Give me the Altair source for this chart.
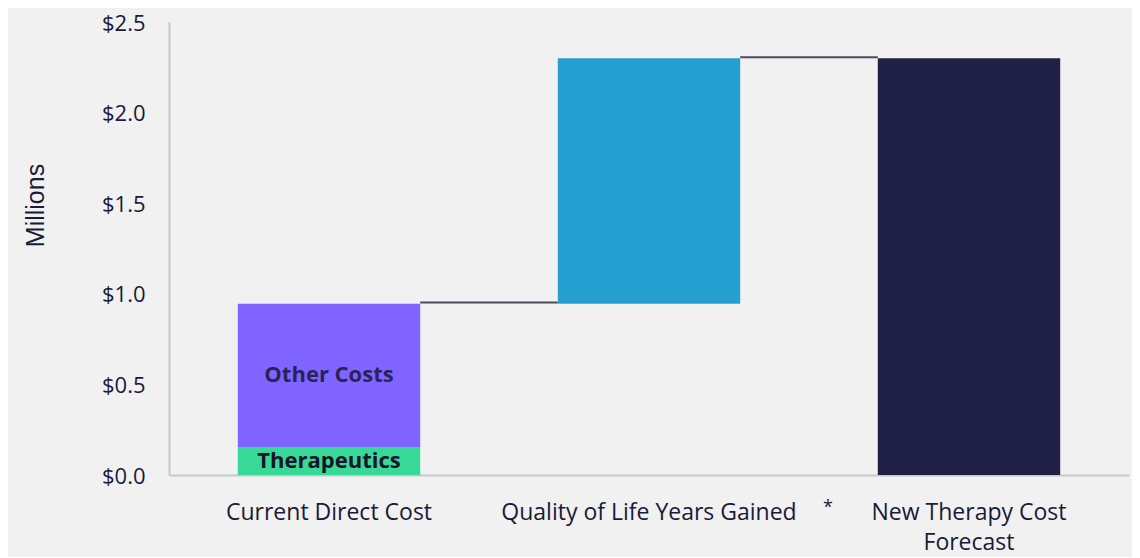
import altair as alt
import pandas as pd

categories = ["Current Direct Cost", "Current Direct Cost", "Quality of Life Years Gained", "New Therapy Cost Forecast"]
segments = ["Therapeutics", "Other Costs", "Quality of Life Years Gained", "New Therapy Cost Forecast"]
bottoms = [0.0, 0.155, 0.945, 0.0]
tops = [0.155, 0.945, 2.30, 2.30]
colors = ["#38d996", "#8064ff", "#259fcf", "#201f46"]
inner_labels = ["Therapeutics", "Other Costs", "", ""]
label_colors = ["#14142b", "#2a2456", "#14142b", "#14142b"]

order = ["Current Direct Cost", "Quality of Life Years Gained", "New Therapy Cost Forecast"]
conn_from = ["Current Direct Cost", "Quality of Life Years Gained"]
conn_to = ["Quality of Life Years Gained", "New Therapy Cost Forecast"]
conn_value = [0.952, 2.305]

bars = pd.DataFrame({
    "cat": categories, "seg": segments, "y0": bottoms, "y1": tops,
    "color": colors, "label": inner_labels, "lcolor": label_colors,
})
bars["mid"] = (bars["y0"] + bars["y1"]) / 2
conn = pd.DataFrame({"from": conn_from, "to": conn_to, "v": conn_value})
star = pd.DataFrame({"cat": ["Quality of Life Years Gained"], "t": ["*"]})

FONT = "Open Sans"
TEXT = "#1a1a3a"

xscale = alt.Scale(domain=order, paddingInner=0.43, paddingOuter=0.215)
yscale = alt.Scale(domain=[0, 2.5], nice=False)

x_axis = alt.Axis(
    title=None, labelAngle=0, labelFont=FONT, labelFontSize=23, labelColor=TEXT,
    labelPadding=26, ticks=False, domainColor="#c8c8cc", domainWidth=2,
    labelLineHeight=30, labelLimit=500, labelOverlap=False,
    labelExpr="datum.value == 'New Therapy Cost Forecast' ? ['New Therapy Cost', 'Forecast'] : datum.value",
)
y_axis = alt.Axis(
    title="Millions", format="$.1f", values=[0, 0.5, 1.0, 1.5, 2.0, 2.5],
    labelFont=FONT, labelFontSize=22, labelColor=TEXT, labelPadding=24,
    labelOffset=1,
    ticks=False, grid=False, domainColor="#c8c8cc", domainWidth=2,
    titleFont="Liberation Sans", titleFontSize=25, titleFontWeight="normal",
    titleColor=TEXT, titleAngle=270, titleX=-134, titleY=183,
    titleAlign="center", titleBaseline="middle",
)

rules = alt.Chart(conn).mark_rule(color="#4a4a5c", strokeWidth=2).encode(
    x=alt.X("from:N", scale=xscale, axis=x_axis, bandPosition=1),
    x2=alt.X2("to:N", bandPosition=0),
    y=alt.Y("v:Q", scale=yscale, axis=y_axis),
)

rects = alt.Chart(bars).mark_bar().encode(
    x=alt.X("cat:N", scale=xscale, axis=x_axis),
    y=alt.Y("y0:Q", scale=yscale, axis=y_axis),
    y2="y1:Q",
    color=alt.Color("color:N", scale=None),
)

labels = alt.Chart(bars).mark_text(font=FONT, fontSize=22, fontWeight="bold").encode(
    x=alt.X("cat:N", scale=xscale, axis=x_axis),
    y=alt.Y("mid:Q", scale=yscale, axis=y_axis),
    text="label:N",
    color=alt.Color("lcolor:N", scale=None),
)

asterisk = alt.Chart(star).mark_text(font=FONT, fontSize=18, color=TEXT, dx=179, baseline="alphabetic").encode(
    x=alt.X("cat:N", scale=xscale, axis=x_axis),
    y=alt.value(491),
    text="t:N",
)

chart = alt.layer(rules, rects, labels, asterisk).properties(
    width=960, height=453,
    autosize=alt.AutoSizeParams(type="none"),
    padding={"left": 161, "top": 14, "right": 3, "bottom": 82},
    background="#f1f1f1",
).configure_view(stroke=None)

chart.save("out.html", embed_options={"renderer": "svg", "actions": False})
